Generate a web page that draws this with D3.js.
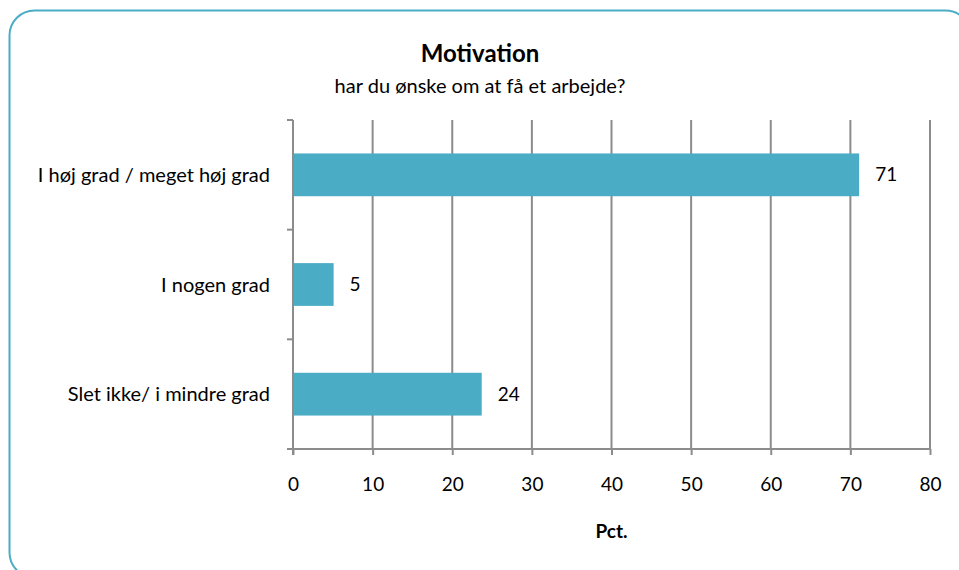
<!DOCTYPE html>
<html><head><meta charset="utf-8">
<script src="https://cdn.jsdelivr.net/npm/d3@7"></script>
<style>html,body{margin:0;padding:0;background:#fff;overflow:hidden}svg{display:block}</style>
</head><body>
<svg id="c" width="959" height="570"></svg>
<script>
const categories = ["I høj grad / meget høj grad", "I nogen grad", "Slet ikke/ i mindre grad"];
const values = [71.1, 5.1, 23.7];
const xTicks = [0, 10, 20, 30, 40, 50, 60, 70, 80];
const title = "Motivation";
const subtitle = "har du ønske om at få et arbejde?";
const xTitle = "Pct.";

const svg = d3.select("#c");
const font = "Lato, 'Open Sans', sans-serif";
const fs = 20;
svg.append("rect").attr("x", 9.5).attr("y", 10.5).attr("width", 961).attr("height", 567)
  .attr("rx", 25).attr("fill", "#fff").attr("stroke", "#4BACC6").attr("stroke-width", 2);

const L = 293, R = 930, T = 120, B = 449;
const x = d3.scaleLinear().domain([0, 80]).range([L, R]);
const y = d3.scaleBand().domain(categories).range([T, B]).paddingInner(0.61).paddingOuter(0.305);
const yb = d3.scaleBand().domain(categories).range([T, B]);

// gridlines
svg.append("g").selectAll("line").data(xTicks.slice(1)).join("line")
  .attr("x1", d => x(d)).attr("x2", d => x(d)).attr("y1", T).attr("y2", B)
  .attr("stroke", "#8c8c8c").attr("stroke-width", 2);

// bars
svg.append("g").selectAll("rect").data(values).join("rect")
  .attr("x", x(0)).attr("y", (d, i) => y(categories[i]))
  .attr("width", d => x(d) - x(0)).attr("height", y.bandwidth())
  .attr("fill", "#4BACC6");

// x axis
const xa = svg.append("g").attr("transform", `translate(0,${B})`)
  .call(d3.axisBottom(x).tickValues(xTicks).tickSize(6).tickPadding(23));
xa.select(".domain").attr("stroke", "#8c8c8c").attr("stroke-width", 2).attr("d", `M${L - 6},0H${R}`);
xa.selectAll(".tick line").attr("stroke", "#8c8c8c").attr("stroke-width", 2);
xa.selectAll("text").attr("font-family", font).attr("font-size", 19).attr("fill", "#000");

// y axis
const ya = svg.append("g").attr("transform", `translate(${L},0)`);
ya.append("line").attr("x1", 0).attr("x2", 0).attr("y1", T).attr("y2", B + 6)
  .attr("stroke", "#8c8c8c").attr("stroke-width", 2);
const edges = categories.map(c => yb(c)).concat([B]);
ya.selectAll("line.t").data(edges).join("line").attr("class", "t")
  .attr("x1", -6).attr("x2", 0).attr("y1", d => d).attr("y2", d => d)
  .attr("stroke", "#8c8c8c").attr("stroke-width", 2);
svg.append("g").selectAll("text").data(categories).join("text")
  .attr("x", 270).attr("y", d => yb(d) + yb.bandwidth() / 2).attr("dy", "0.35em")
  .attr("text-anchor", "end").attr("font-family", font).attr("font-size", fs).text(d => d);

// value labels
svg.append("g").selectAll("text").data(values).join("text")
  .attr("x", d => x(d) + 16).attr("y", (d, i) => y(categories[i]) + y.bandwidth() / 2).attr("dy", "0.35em")
  .attr("font-family", font).attr("font-size", 19).text(d => d3.format(".0f")(d));

svg.append("text").attr("x", 480).attr("y", 62).attr("text-anchor", "middle")
  .attr("font-family", font).attr("font-weight", "bold").attr("font-size", 24).text(title);
svg.append("text").attr("x", 480).attr("y", 93).attr("text-anchor", "middle")
  .attr("font-family", font).attr("font-size", 20).text(subtitle);
svg.append("text").attr("x", (L + R) / 2).attr("y", 538).attr("text-anchor", "middle")
  .attr("font-family", font).attr("font-weight", "bold").attr("font-size", 19).text(xTitle);
</script>
</body></html>
